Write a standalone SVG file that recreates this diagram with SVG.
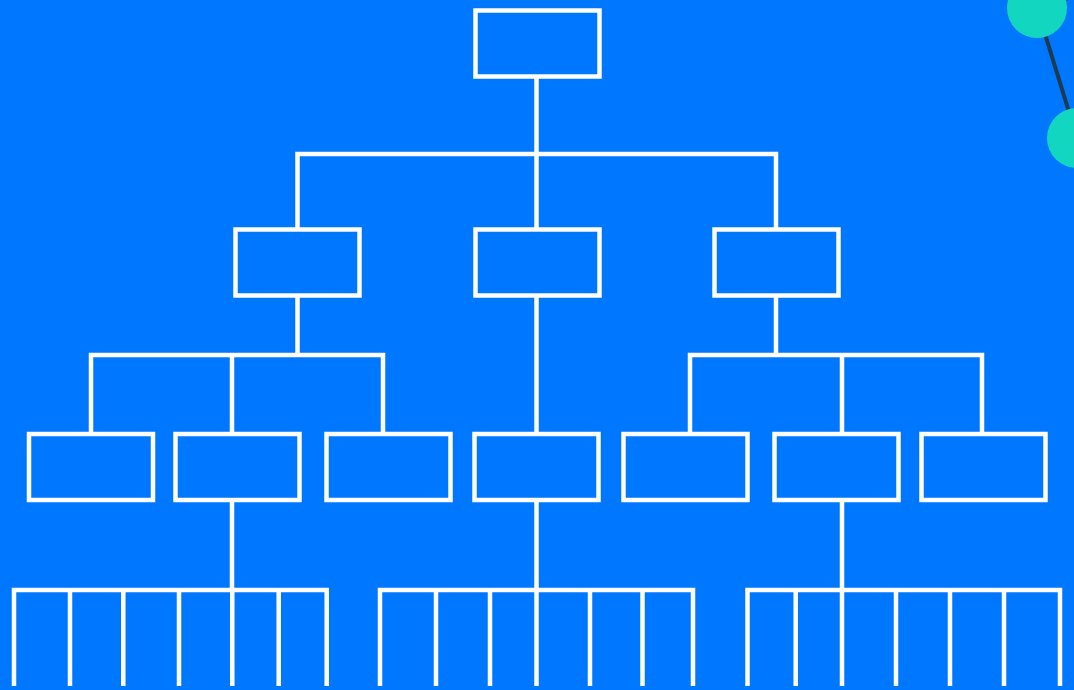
<svg xmlns="http://www.w3.org/2000/svg" width="1074" height="690" viewBox="0 0 1074 690">
<style>
.box{fill:none;stroke:#ffffff;stroke-width:4.5}
.ln{fill:none;stroke:#ffffff;stroke-width:4.5;stroke-linecap:butt;stroke-linejoin:miter}
.dot{fill:#12D6BF}
.dl{stroke:#1C3B50;stroke-width:4}
</style>
<rect x="0" y="0" width="1074" height="690" fill="#0077FF"/>
<g id="deco">
<line class="dl" x1="1037" y1="8" x2="1100" y2="-12"/>
<line class="dl" x1="1037" y1="8" x2="1077" y2="138"/>
<circle class="dot" cx="1037" cy="8" r="30"/>
<circle class="dot" cx="1077" cy="138" r="30"/>
</g>
<g id="connectors">
<path class="ln" d="M536.5 77 V229 M297.5 229 V154 H776 V229"/>
<path class="ln" d="M297.5 296 V355 M91 434 V355 H383 V434 M232 355 V434"/>
<path class="ln" d="M536.5 296 V434"/>
<path class="ln" d="M776 296 V355 M690 434 V355 H982 V434 M842 355 V434"/>
<path class="ln" d="M232 500 V590 M14 686 V590 H326.7 V686 M70 590 V686 M123.3 590 V686 M179 590 V686 M232.3 590 V686 M278.7 590 V686"/>
<path class="ln" d="M536.5 500 V686 M380 686 V590 H693 V686 M436 590 V686 M490 590 V686 M590 590 V686 M642.5 590 V686"/>
<path class="ln" d="M842 500 V686 M747.5 686 V590 H1060 V686 M795.7 590 V686 M896 590 V686 M950 590 V686 M1004 590 V686"/>
</g>
<g id="n-root"><rect class="box" x="475.5" y="10.5" width="124" height="66"/></g>
<g id="n-l2a"><rect class="box" x="235.5" y="229.5" width="124" height="66"/></g>
<g id="n-l2b"><rect class="box" x="475.5" y="229.5" width="124" height="66"/></g>
<g id="n-l2c"><rect class="box" x="714.5" y="229.5" width="124" height="66"/></g>
<g id="n-l3a"><rect class="box" x="29" y="434" width="124" height="66"/></g>
<g id="n-l3b"><rect class="box" x="175.5" y="434" width="124" height="66"/></g>
<g id="n-l3c"><rect class="box" x="326.5" y="434" width="124" height="66"/></g>
<g id="n-l3d"><rect class="box" x="474.5" y="434" width="124" height="66"/></g>
<g id="n-l3e"><rect class="box" x="623.5" y="434" width="124" height="66"/></g>
<g id="n-l3f"><rect class="box" x="774.5" y="434" width="124" height="66"/></g>
<g id="n-l3g"><rect class="box" x="921.5" y="434" width="124" height="66"/></g>
</svg>
